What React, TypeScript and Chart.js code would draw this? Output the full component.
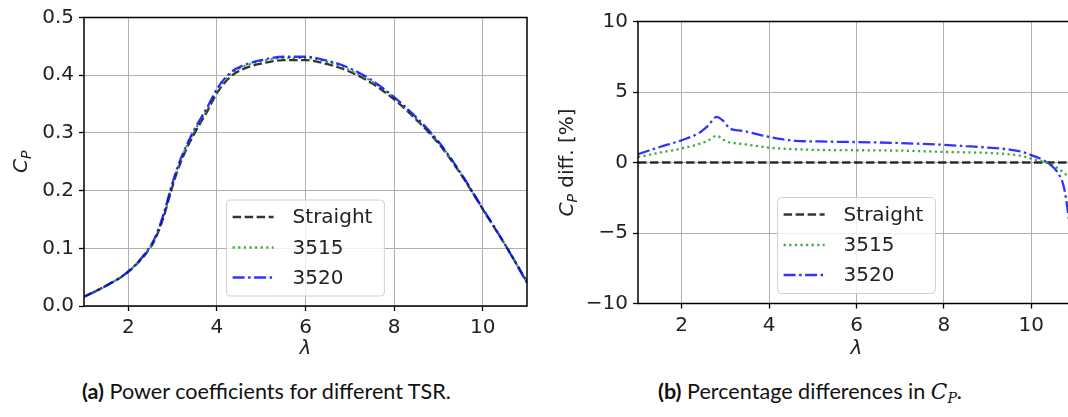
import React, { useEffect, useRef } from "react";
import { Chart, registerables } from "chart.js";

Chart.register(...registerables);

// ---------- data ----------
const LEGEND_LABELS = ["Straight", "3515", "3520"];

const X_TICKS = [2, 4, 6, 8, 10];
const Y_TICKS_CP = [0, 0.1, 0.2, 0.3, 0.4, 0.5];
const Y_TICKS_DIFF = [-10, -5, 0, 5, 10];

const LAMBDA_CP = [1, 1.5, 2, 2.4, 2.6, 2.8, 2.95, 3.1, 3.3, 3.5, 3.8, 4.0, 4.3, 4.6, 5.0, 5.5, 6.0, 6.5, 7.0, 7.5, 8.0, 8.5, 9.0, 9.5, 10.0, 10.5, 11.0];
const CP_STRAIGHT = [0.016, 0.035, 0.059, 0.091, 0.115, 0.155, 0.195, 0.232, 0.270, 0.300, 0.340, 0.369, 0.397, 0.411, 0.420, 0.426, 0.426, 0.419, 0.406, 0.386, 0.358, 0.323, 0.282, 0.229, 0.168, 0.107, 0.042];
const CP_3515 = [0.016, 0.035, 0.060, 0.092, 0.117, 0.158, 0.198, 0.235, 0.274, 0.304, 0.344, 0.373, 0.401, 0.415, 0.424, 0.430, 0.430, 0.423, 0.409, 0.389, 0.361, 0.325, 0.284, 0.230, 0.168, 0.107, 0.041];
const CP_3520 = [0.016, 0.035, 0.060, 0.093, 0.118, 0.160, 0.201, 0.238, 0.276, 0.307, 0.347, 0.376, 0.404, 0.417, 0.426, 0.432, 0.432, 0.425, 0.412, 0.391, 0.362, 0.327, 0.285, 0.231, 0.169, 0.107, 0.040];

const LAMBDA_REF = [1, 11];
const DIFF_STRAIGHT = [0, 0];
const LAMBDA_DIFF = [1, 1.5, 2, 2.4, 2.6, 2.8, 2.95, 3.1, 3.3, 3.5, 3.8, 4.0, 4.3, 4.6, 5.0, 5.5, 6.0, 6.5, 7.0, 7.5, 8.0, 8.5, 9.0, 9.5, 9.8, 10.0, 10.2, 10.4, 10.6, 10.75, 10.85, 11.0];
const DIFF_3520 = [0.59, 1.1, 1.58, 2.1, 2.6, 3.24, 2.95, 2.42, 2.28, 2.18, 1.95, 1.82, 1.65, 1.53, 1.5, 1.47, 1.45, 1.42, 1.38, 1.32, 1.25, 1.16, 1.06, 0.92, 0.75, 0.52, 0.28, -0.08, -0.7, -1.8, -3.8, -8.0];
const DIFF_3515 = [0.38, 0.7, 0.99, 1.32, 1.55, 1.9, 1.62, 1.42, 1.35, 1.27, 1.13, 1.05, 0.98, 0.94, 0.9, 0.88, 0.87, 0.86, 0.84, 0.8, 0.75, 0.72, 0.68, 0.58, 0.45, 0.27, 0.12, -0.05, -0.4, -0.75, -1.05, -1.8];

// ---------- styles ----------
const FONT = '"DejaVu Sans", sans-serif';
const TXT = "#222";
const STYLES = [
  { color: "rgba(0,0,0,0.8)", dash: [8.5, 3.5] },
  { color: "rgba(44,160,44,0.9)", dash: [2.2, 3.4] },
  { color: "rgba(0,0,255,0.8)", dash: [12, 3.5, 2.5, 3.5] },
];

const pts = (xs: number[], ys: number[]) => xs.map((x, i) => ({ x, y: ys[i] }));

function makeDatasets(series: { x: number[]; y: number[] }[]) {
  return series.map((s, i) => ({
    label: LEGEND_LABELS[i],
    data: pts(s.x, s.y),
    borderColor: STYLES[i].color,
    borderDash: STYLES[i].dash,
    borderWidth: 2.3,
    pointRadius: 0,
    fill: false,
    cubicInterpolationMode: "monotone" as const,
    order: 3 - i,
  }));
}

function extrasPlugin(opt: { titleX: number; main: string; sub: string; rest: string }) {
  return {
    id: "extras",
    afterDraw(chart: any) {
      const { ctx, chartArea: a } = chart;
      ctx.save();
      // frame
      ctx.strokeStyle = "#000";
      ctx.lineWidth = 1.5;
      ctx.setLineDash([]);
      ctx.strokeRect(a.left, a.top, a.right - a.left, a.bottom - a.top);

      // legend (lower center)
      ctx.font = `20px ${FONT}`;
      const textX = 66;
      const w = textX + ctx.measureText("Straight").width + 12;
      const h = 96;
      const cx = (a.left + a.right) / 2;
      const bx = cx - w / 2;
      const by = a.bottom - 10 - h;
      const r = 4;
      ctx.beginPath();
      ctx.moveTo(bx + r, by);
      ctx.lineTo(bx + w - r, by);
      ctx.quadraticCurveTo(bx + w, by, bx + w, by + r);
      ctx.lineTo(bx + w, by + h - r);
      ctx.quadraticCurveTo(bx + w, by + h, bx + w - r, by + h);
      ctx.lineTo(bx + r, by + h);
      ctx.quadraticCurveTo(bx, by + h, bx, by + h - r);
      ctx.lineTo(bx, by + r);
      ctx.quadraticCurveTo(bx, by, bx + r, by);
      ctx.closePath();
      ctx.fillStyle = "rgba(255,255,255,0.8)";
      ctx.fill();
      ctx.strokeStyle = "#d0d0d0";
      ctx.lineWidth = 1;
      ctx.stroke();
      const rows = [17, 47.5, 77.5];
      chart.data.datasets.forEach((ds: any, i: number) => {
        const y = by + rows[i];
        ctx.beginPath();
        ctx.strokeStyle = ds.borderColor;
        ctx.lineWidth = ds.borderWidth;
        ctx.setLineDash(ds.borderDash);
        ctx.moveTo(bx + 6, y);
        ctx.lineTo(bx + 47, y);
        ctx.stroke();
        ctx.setLineDash([]);
        ctx.fillStyle = TXT;
        ctx.textBaseline = "middle";
        ctx.textAlign = "left";
        ctx.fillText(ds.label, bx + textX, y + 1);
      });

      // y title with subscript
      const cy = (a.top + a.bottom) / 2;
      ctx.translate(opt.titleX, cy);
      ctx.rotate(-Math.PI / 2);
      const fMain = `italic 20px ${FONT}`;
      const fSub = `italic 14px ${FONT}`;
      const fRest = `20px ${FONT}`;
      ctx.font = fMain;
      const wm = ctx.measureText(opt.main).width;
      ctx.font = fSub;
      const ws = ctx.measureText(opt.sub).width;
      ctx.font = fRest;
      const wr = opt.rest ? ctx.measureText(opt.rest).width : 0;
      let x = -(wm + ws + wr) / 2;
      ctx.textAlign = "left";
      ctx.textBaseline = "alphabetic";
      ctx.fillStyle = TXT;
      const base = 7;
      ctx.font = fMain;
      ctx.fillText(opt.main, x, base);
      x += wm;
      ctx.font = fSub;
      ctx.fillText(opt.sub, x, base + 4);
      x += ws;
      if (opt.rest) {
        ctx.font = fRest;
        ctx.fillText(opt.rest, x, base);
      }
      ctx.restore();
    },
  };
}

function axisOpts(kind: "x" | "y", ticksArr: number[], min: number, max: number, size: number, fmt: (v: number) => string, title?: string) {
  return {
    type: "linear" as const,
    min,
    max,
    afterBuildTicks: (s: any) => {
      s.ticks = ticksArr.map((v) => ({ value: v }));
    },
    afterFit: (s: any) => {
      if (kind === "x") s.height = size;
      else s.width = size;
    },
    grid: { color: "#b0b0b0", lineWidth: 1, drawTicks: true, tickLength: 5, tickColor: "#000", tickWidth: 1.3 },
    border: { display: false },
    ticks: {
      color: TXT,
      font: { family: FONT, size: 20 },
      padding: 5,
      maxRotation: 0,
      autoSkip: false,
      callback: (v: any) => fmt(Number(v)),
    },
    title: title
      ? { display: true, text: title, color: TXT, font: { family: FONT, size: 20, style: "italic" as const }, padding: { top: 0, bottom: 9 } }
      : { display: false },
  };
}

export default function App() {
  const refA = useRef<HTMLCanvasElement>(null);
  const refB = useRef<HTMLCanvasElement>(null);

  useEffect(() => {
    const chartA = new Chart(refA.current!, {
      type: "line",
      data: {
        datasets: makeDatasets([
          { x: LAMBDA_CP, y: CP_STRAIGHT },
          { x: LAMBDA_CP, y: CP_3515 },
          { x: LAMBDA_CP, y: CP_3520 },
        ]) as any,
      },
      options: {
        responsive: false,
        animation: false,
        devicePixelRatio: 1,
        layout: { padding: { left: 0, top: 17.5, right: 13, bottom: 0 } },
        plugins: { legend: { display: false }, tooltip: { enabled: false } },
        scales: {
          x: axisOpts("x", X_TICKS, 1, 11, 64, (v) => String(v), "λ"),
          y: axisOpts("y", Y_TICKS_CP, 0, 0.5, 84, (v) => v.toFixed(1)),
        },
      } as any,
      plugins: [extrasPlugin({ titleX: 20, main: "C", sub: "P", rest: "" })],
    });

    const chartB = new Chart(refB.current!, {
      type: "line",
      data: {
        datasets: makeDatasets([
          { x: LAMBDA_REF, y: DIFF_STRAIGHT },
          { x: LAMBDA_DIFF, y: DIFF_3515 },
          { x: LAMBDA_DIFF, y: DIFF_3520 },
        ]) as any,
      },
      options: {
        responsive: false,
        animation: false,
        devicePixelRatio: 1,
        layout: { padding: { left: 0, top: 21.5, right: 25, bottom: 0 } },
        plugins: { legend: { display: false }, tooltip: { enabled: false } },
        scales: {
          x: axisOpts("x", X_TICKS, 1, 11, 66.5, (v) => String(v), "λ"),
          y: axisOpts("y", Y_TICKS_DIFF, -10, 10, 98, (v) => (v < 0 ? "\u2212" + Math.abs(v) : String(v))),
        },
      } as any,
      plugins: [extrasPlugin({ titleX: 26, main: "C", sub: "P", rest: " diff. [%]" })],
    });

    return () => {
      chartA.destroy();
      chartB.destroy();
    };
  }, []);

  const capStyle: React.CSSProperties = {
    position: "absolute",
    top: 379,
    fontFamily: "Lato, sans-serif",
    fontSize: 21.6,
    lineHeight: "24px",
    color: "#111",
    whiteSpace: "nowrap",
  };

  return (
    <div style={{ position: "fixed", left: 0, top: 0, width: 1068, height: 417, overflow: "hidden", background: "#fff" }}>
      <canvas ref={refA} width={540} height={370} style={{ position: "absolute", left: 0, top: 0, width: 540, height: 370 }} />
      <canvas ref={refB} width={560} height={370} style={{ position: "absolute", left: 540, top: 0, width: 560, height: 370 }} />
      <div style={{ ...capStyle, left: 82 }}>
        <b>(a)</b> Power coefficients for different TSR.
      </div>
      <div style={{ ...capStyle, left: 658 }}>
        <b>(b)</b> Percentage differences in{" "}
        <span style={{ fontFamily: '"DejaVu Serif", serif', fontStyle: "italic" }}>C</span>
        <sub style={{ fontFamily: '"DejaVu Serif", serif', fontStyle: "italic", fontSize: 14, verticalAlign: "-4px" }}>P</sub>.
      </div>
    </div>
  );
}
